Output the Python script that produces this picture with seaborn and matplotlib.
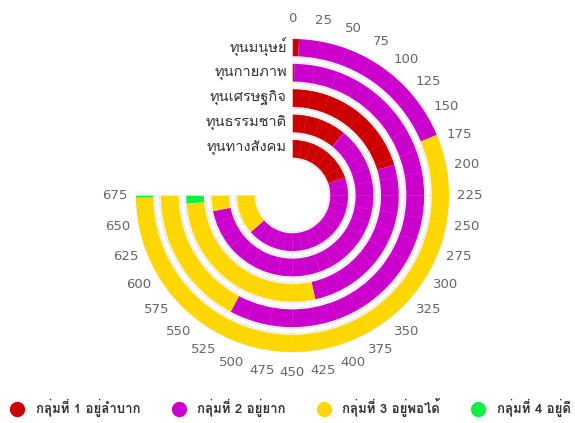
import numpy as np
import matplotlib
matplotlib.use('Agg')
import matplotlib.pyplot as plt
import seaborn as sns
from matplotlib import font_manager
from matplotlib.ft2font import FT2Font
from matplotlib.lines import Line2D

# ---------------- data ----------------
categories = ['ทุนมนุษย์', 'ทุนกายภาพ', 'ทุนเศรษฐกิจ', 'ทุนธรรมชาติ', 'ทุนทางสังคม']
group_names = ['กลุ่มที่ 1 อยู่ลำบาก', 'กลุ่มที่ 2 อยู่ยาก', 'กลุ่มที่ 3 อยู่พอได้', 'กลุ่มที่ 4 อยู่ดี']
group1 = [6, 2, 183, 98, 179]
group2 = [162, 518, 236, 549, 393]
group3 = [505, 155, 245, 28, 102]
group4 = [2, 0, 11, 0, 1]
axis_max = 675
tick_values = list(range(0, 676, 25))

colors = ['#CC0000', '#CC00CC', '#FFD700', '#11EE44']


def find_thai_font():
    for f in font_manager.fontManager.ttflist:
        try:
            if 0x0E01 in FT2Font(f.fname).get_charmap():
                return f.name
        except Exception:
            pass
    return 'DejaVu Sans'


sns.set_style('white', {'axes.edgecolor': '#e8e8e8'})
thai = find_thai_font()
plt.rcParams['font.family'] = [thai, 'DejaVu Sans']

fig = plt.figure(figsize=(5.75, 4.23), dpi=100)
R = 6.17  # outer radius in data units
ax = fig.add_axes([(294 - 158) / 575, (423 - 197 - 158) / 423, 316 / 575, 316 / 423],
                  projection='polar')
ax.set_theta_zero_location('N')
ax.set_theta_direction(-1)
ax.set_thetamin(0)
ax.set_thetamax(270)
ax.set_ylim(0, R)
ax.patch.set_edgecolor('none')

to_rad = lambda v: np.asarray(v, dtype=float) / axis_max * 1.5 * np.pi

# ring centres (outer ring first)
centres = [5.84 - i for i in range(len(categories))]
bar_h = 0.7

groups = [group1, group2, group3, group4]
left = np.zeros(len(categories))
for vals, col in zip(groups, colors):
    vals = np.array(vals, dtype=float)
    ax.bar(to_rad(left), bar_h, width=to_rad(vals), bottom=np.array(centres) - bar_h / 2,
           align='edge', color=col, edgecolor='none', zorder=3)
    left += vals

# light grid only across the rings
r_in = min(centres) - bar_h / 2 - 0.05
r_out = R
ax.grid(False)
theta_fine = np.linspace(0, 1.5 * np.pi, 400)
for c in centres:
    for r in (c - bar_h / 2 - 0.05, c + bar_h / 2 + 0.05):
        ax.plot(theta_fine, np.full_like(theta_fine, r), color='#e8e8e8', lw=0.8, zorder=1)
ax.vlines(to_rad(tick_values), r_in, r_out, color='#e8e8e8', lw=0.7, zorder=1)
ax.vlines(to_rad(tick_values), r_in, r_out, color='#ffffff', lw=0.6, alpha=0.12, zorder=4)

ax.set_yticks([])
ax.set_xticks(to_rad(tick_values))
ax.set_xticklabels([str(v) for v in tick_values], color='#666666', fontsize=9.5,
                   family=['Liberation Sans Narrow', 'DejaVu Sans'])
ax.tick_params(axis='x', pad=8, length=0)
for name in ['start', 'end', 'inner']:
    ax.spines[name].set_visible(False)
    ax.spines[name].set_color('none')
ax.spines['polar'].set_color('#e8e8e8')
ax.spines['polar'].set_linewidth(0.8)

# category labels
for cat, c in zip(categories, centres):
    ax.annotate(cat, xy=(0, c), xytext=(-4, 0), textcoords='offset points',
                ha='right', va='center', fontsize=10.5, color='#333333',
                annotation_clip=False)

# legend
handles = [Line2D([], [], marker='o', linestyle='none', markersize=10,
                  markerfacecolor=c, markeredgecolor=c) for c in colors]
leg = fig.legend(handles, group_names, ncol=4, loc='lower center',
                 bbox_to_anchor=(0.5, -0.015), frameon=False, handletextpad=0.4,
                 columnspacing=1.9, prop={'size': 9.5, 'weight': 'bold'})
for t in leg.get_texts():
    t.set_color('#333333')

fig.savefig('out.png', dpi=100)
